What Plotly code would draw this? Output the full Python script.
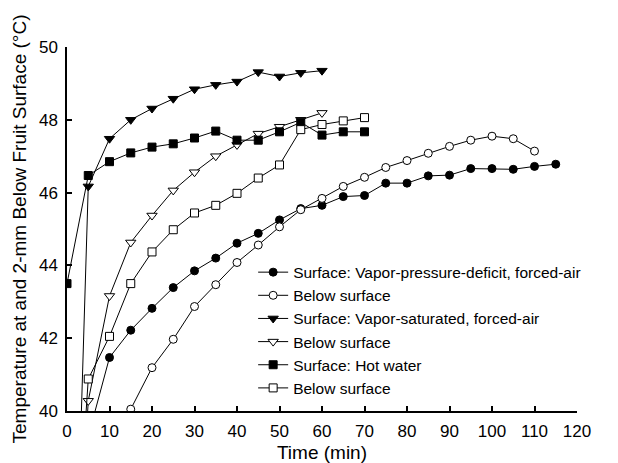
import plotly.graph_objects as go

# Surface: Vapor-pressure-deficit, forced-air (filled circles)
vpd_surf_x = [5, 10, 15, 20, 25, 30, 35, 40, 45, 50, 55, 60, 65, 70, 75, 80, 85, 90, 95, 100, 105, 110, 115]
vpd_surf_y = [39.3, 41.47, 42.22, 42.82, 43.39, 43.85, 44.20, 44.61, 44.88, 45.25, 45.56, 45.65, 45.89, 45.92,
              46.26, 46.26, 46.46, 46.48, 46.66, 46.66, 46.64, 46.72, 46.78]
# Below surface (open circles)
vpd_below_x = [10, 15, 20, 25, 30, 35, 40, 45, 50, 55, 60, 65, 70, 75, 80, 85, 90, 95, 100, 105, 110]
vpd_below_y = [38.5, 40.05, 41.19, 41.97, 42.87, 43.47, 44.08, 44.56, 45.06, 45.53, 45.84, 46.17, 46.42, 46.69,
               46.88, 47.08, 47.27, 47.44, 47.55, 47.48, 47.14]
# Surface: Vapor-saturated, forced-air (filled down-triangles)
vs_surf_x = [0, 5, 10, 15, 20, 25, 30, 35, 40, 45, 50, 55, 60]
vs_surf_y = [27.0, 46.17, 47.48, 48.00, 48.31, 48.58, 48.84, 48.96, 49.05, 49.31, 49.19, 49.29, 49.35]
# Below surface (open down-triangles)
vs_below_x = [0, 5, 10, 15, 20, 25, 30, 35, 40, 45, 50, 55, 60]
vs_below_y = [30.0, 40.28, 43.16, 44.63, 45.37, 46.06, 46.56, 47.00, 47.31, 47.62, 47.81, 48.00, 48.19]
# Surface: Hot water (filled squares)
hw_surf_x = [0, 5, 10, 15, 20, 25, 30, 35, 40, 45, 50, 55, 60, 65, 70]
hw_surf_y = [43.5, 46.47, 46.85, 47.09, 47.25, 47.34, 47.50, 47.69, 47.44, 47.44, 47.67, 47.93, 47.58, 47.67, 47.67]
# Below surface (open squares)
hw_below_x = [0, 5, 10, 15, 20, 25, 30, 35, 40, 45, 50, 55, 60, 65, 70]
hw_below_y = [32.0, 40.88, 42.05, 43.50, 44.37, 44.98, 45.44, 45.65, 45.98, 46.40, 46.76, 47.73, 47.87, 47.97, 48.06]

x_ticks = [0, 10, 20, 30, 40, 50, 60, 70, 80, 90, 100, 110, 120]
y_ticks = [40, 42, 44, 46, 48, 50]

FONT = "Arial, Liberation Sans, sans-serif"

series = [
    ("Surface: Vapor-pressure-deficit, forced-air", vpd_surf_x, vpd_surf_y, "circle", "black", 8),
    ("Below surface", vpd_below_x, vpd_below_y, "circle", "white", 8),
    ("Surface: Vapor-saturated, forced-air", vs_surf_x, vs_surf_y, "triangle-down", "black", 9),
    ("Below surface", vs_below_x, vs_below_y, "triangle-down", "white", 9),
    ("Surface: Hot water", hw_surf_x, hw_surf_y, "square", "black", 8),
    ("Below surface", hw_below_x, hw_below_y, "square", "white", 8),
]

fig = go.Figure()
for name, xs, ys, sym, fill, size in series:
    fig.add_trace(go.Scatter(
        x=xs, y=ys, name=name, mode="lines+markers",
        line=dict(color="black", width=1),
        marker=dict(symbol=sym, size=size, color=fill, line=dict(color="black", width=1)),
    ))

# the page body adds an 8px offset, so the figure is sized to fit the window
fig.update_layout(
    width=610, height=455,
    margin=dict(l=59, r=41, t=39, b=52),
    paper_bgcolor="white", plot_bgcolor="white",
    font=dict(family=FONT, size=17, color="black"),
    showlegend=True,
    legend=dict(
        x=0.365, y=0.427, xanchor="left", yanchor="top",
        bgcolor="rgba(0,0,0,0)", borderwidth=0,
        font=dict(family=FONT, size=15.5, color="black"),
        tracegroupgap=0, itemwidth=30,
    ),
    xaxis=dict(
        range=[0, 120], tickvals=x_ticks, ticktext=[str(v) for v in x_ticks],
        ticks="inside", ticklen=5, tickwidth=1.5, tickcolor="black",
        showline=True, linecolor="black", linewidth=1.5,
        showgrid=False, zeroline=False, automargin=False,
        ticklabelstandoff=4,
        title=dict(text="Time (min)", font=dict(size=19), standoff=12),
        tickfont=dict(size=17),
    ),
    yaxis=dict(
        range=[40, 50], tickvals=y_ticks, ticktext=[str(v) for v in y_ticks],
        ticks="inside", ticklen=5, tickwidth=1.5, tickcolor="black",
        showline=True, linecolor="black", linewidth=1.5,
        showgrid=False, zeroline=False, automargin=False,
        ticklabelstandoff=4,
        title=dict(text="Temperature at and 2-mm Below Fruit Surface (°C)", font=dict(size=19), standoff=7),
        tickfont=dict(size=17),
    ),
)

fig.write_html("out.html")
